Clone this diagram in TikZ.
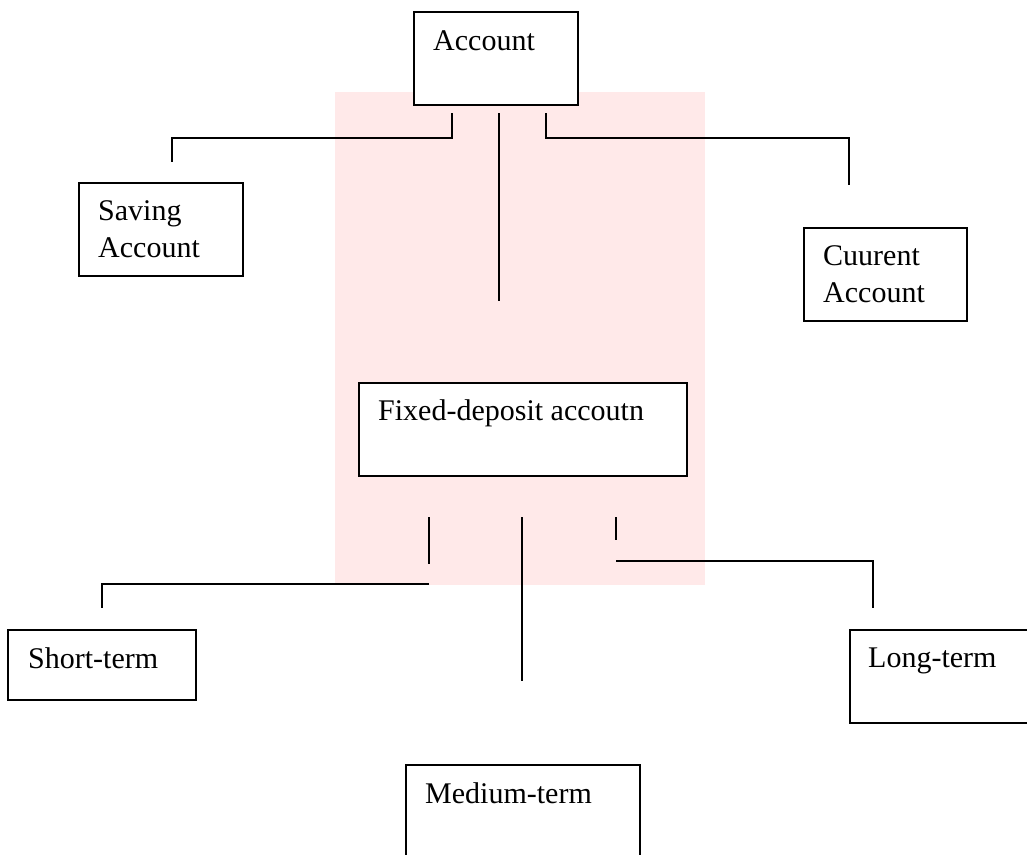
\documentclass[tikz,border=0pt]{standalone}
\usepackage{fontspec}
\setmainfont{Liberation Serif}
\begin{document}
\begin{tikzpicture}[x=1pt,y=-1pt,
  box/.style={draw=black, line width=1.6pt, fill=white, anchor=north west, inner sep=0pt},
  lbl/.style={inner sep=0pt, anchor=base west, align=left, font=\fontsize{30}{37}\selectfont},
  conn/.style={draw=black, line width=1.6pt}]
\useasboundingbox (0,0) rectangle (1027,854);
\fill[white] (0,0) rectangle (1027,854);
% faint watermark tint
\fill[red!60!pink, opacity=0.12] (335,92) rectangle (705,585);
% boxes
\node[box, minimum width=164, minimum height=93] (acc) at (413,11) {};
\node[box, minimum width=164, minimum height=93] (sav) at (78,182) {};
\node[box, minimum width=163, minimum height=93] (cur) at (803,227) {};
\node[box, minimum width=328, minimum height=93] (fix) at (358,382) {};
\node[box, minimum width=188, minimum height=70] (sht) at (7,629) {};
\node[box, minimum width=200, minimum height=93] (lng) at (849,629) {};
\node[box, minimum width=234, minimum height=110] (med) at (405,764) {};
% texts (two-line labels anchored at the baseline of their last line)
\node[lbl] (accT) at (433,50) {Account};
\node[lbl] (savT) at (98,257) {Saving\\Account};
\node[lbl] (curT) at (823,302) {Cuurent\\Account};
\node[lbl] (fixT) at (378,420) {Fixed-deposit accoutn};
\node[lbl] (shtT) at (28,668) {Short-term};
\node[lbl] (lngT) at (868,667) {Long-term};
\node[lbl] (medT) at (425,803) {Medium-term};
% connector coordinates
\coordinate (a1) at (452,113);
\coordinate (a2) at (452,138);
\coordinate (a3) at (172,138);
\coordinate (a4) at (172,162);
\coordinate (m1) at (499,113);
\coordinate (m2) at (499,301);
\coordinate (c1) at (546,113);
\coordinate (c2) at (546,138);
\coordinate (c3) at (849,138);
\coordinate (c4) at (849,185);
\coordinate (s1) at (429,517);
\coordinate (s2) at (429,564);
\coordinate (s3) at (429,584);
\coordinate (s4) at (102,584);
\coordinate (s5) at (102,608);
\coordinate (d1) at (522,517);
\coordinate (d2) at (522,681);
\coordinate (l1) at (616,517);
\coordinate (l2) at (616,540);
\coordinate (l3) at (616,561);
\coordinate (l4) at (873,561);
\coordinate (l5) at (873,608);
% connectors
\draw[conn] (a1) -- (a2) -- (a3) -- (a4);
\draw[conn] (m1) -- (m2);
\draw[conn] (c1) -- (c2) -- (c3) -- (c4);
\draw[conn] (s1) -- (s2);
\draw[conn] (s3) -- (s4) -- (s5);
\draw[conn] (d1) -- (d2);
\draw[conn] (l1) -- (l2);
\draw[conn] (l3) -- (l4) -- (l5);
\end{tikzpicture}
\end{document}
